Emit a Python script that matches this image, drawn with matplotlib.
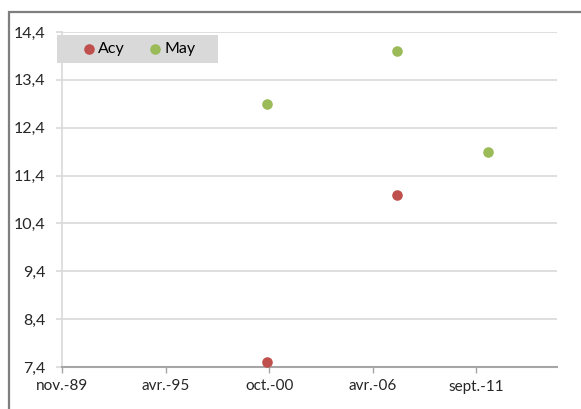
import datetime as dt

import matplotlib
import matplotlib.pyplot as plt
import matplotlib.dates as mdates
from matplotlib.patches import Rectangle

matplotlib.use("Agg")

RED = "#C0504D"
GREEN = "#9BBB59"
GRID = "#D9D9D9"
AXIS = "#A6A6A6"
BORDER = "#7F7F7F"
TEXT = "#262626"

plt.rcParams["font.family"] = ["Lato", "DejaVu Sans"]

# data
acy_dates = [dt.date(2000, 9, 15), dt.date(2007, 8, 1)]
acy_values = [7.5, 11.0]
may_dates = [dt.date(2000, 9, 15), dt.date(2007, 8, 1), dt.date(2012, 5, 15)]
may_values = [12.9, 14.0, 11.9]

x_start = dt.date(1989, 11, 10)
x_step_days = 2000
x_tick_labels = ["nov.-89", "avr.-95", "oct.-00", "avr.-06", "sept.-11"]
y_ticks = [7.4, 8.4, 9.4, 10.4, 11.4, 12.4, 13.4, 14.4]
y_tick_labels = ["7,4", "8,4", "9,4", "10,4", "11,4", "12,4", "13,4", "14,4"]

W, H, DPI = 581, 409, 100
fig = plt.figure(figsize=(W / DPI, H / DPI), dpi=DPI)
fig.patch.set_facecolor("white")

ax = fig.add_axes([62 / W, 1 - 367 / H, (557 - 62) / W, (367 - 32) / H])

ax.scatter(mdates.date2num(acy_dates), acy_values, s=58, color=RED, label="Acy", zorder=3, linewidths=0)
ax.scatter(mdates.date2num(may_dates), may_values, s=58, color=GREEN, label="May", zorder=3, linewidths=0)

x0 = mdates.date2num(x_start)
x_ticks = [x0 + i * x_step_days for i in range(len(x_tick_labels))]
ax.set_xticks(x_ticks)
ax.set_xticklabels(x_tick_labels)
ax.set_xlim(x0, x0 + 4.78 * x_step_days)

ax.set_yticks(y_ticks)
ax.set_yticklabels(y_tick_labels)
ax.set_ylim(7.4, 14.4)

ax.grid(axis="y", color=GRID, linewidth=1.2, zorder=0)
ax.set_axisbelow(True)
ax.spines[["top", "right"]].set_visible(False)
ax.spines["left"].set_color(GRID)
ax.spines["left"].set_linewidth(1.2)
ax.spines["bottom"].set_color(AXIS)
ax.spines["bottom"].set_linewidth(1.5)
ax.tick_params(axis="y", length=4, color=GRID, width=1.2, pad=8, labelsize=11.5, labelcolor=TEXT)
ax.tick_params(axis="x", length=4, color=AXIS, width=1.0, pad=5, labelsize=11, labelcolor=TEXT)

# legend box (grey band) + legend on top
fig.patches.append(Rectangle((57 / W, 1 - 63 / H), (218 - 57) / W, 28 / H, transform=fig.transFigure,
                             facecolor=GRID, edgecolor="none", zorder=2))
handles, labels = ax.get_legend_handles_labels()
leg = fig.legend(handles, labels, loc="center left", bbox_to_anchor=(80 / W, 1 - 49 / H),
                 ncol=2, frameon=False, fontsize=11.5, handletextpad=0.05, columnspacing=1.3,
                 borderpad=0, handlelength=1.1, borderaxespad=0)
leg.set_zorder(5)

fig.patches.append(Rectangle((9 / W, -0.1), 2, 1 - 12 / H + 0.1, transform=fig.transFigure,
                             fill=False, edgecolor=BORDER, linewidth=1.6, clip_on=False))

fig.savefig("out.png", dpi=DPI)
